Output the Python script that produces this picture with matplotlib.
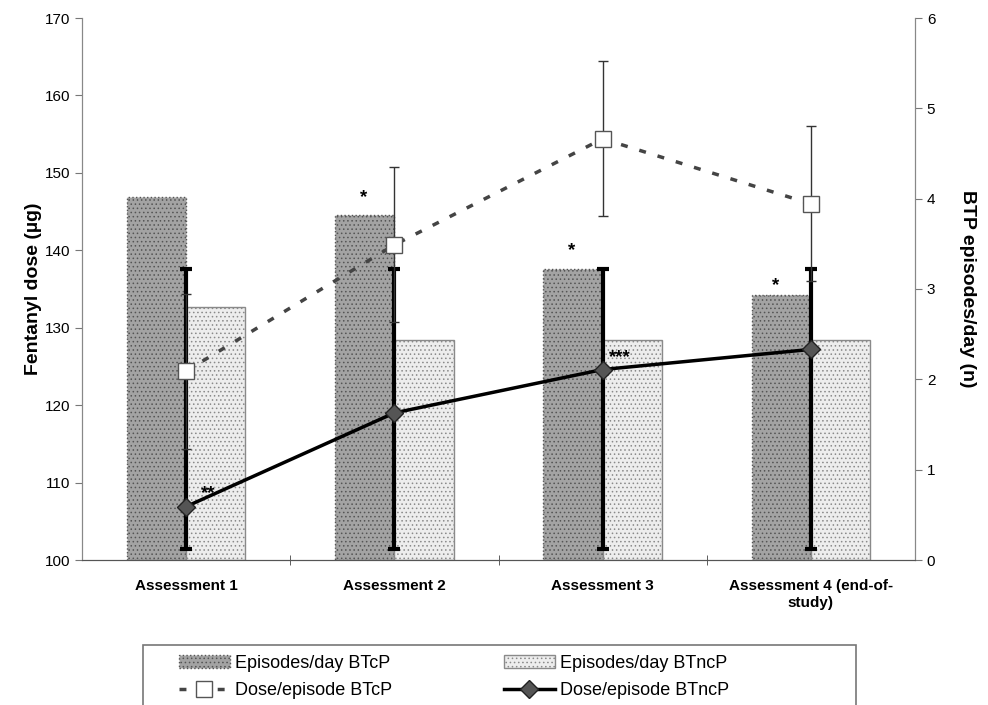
import matplotlib.pyplot as plt
import numpy as np
from matplotlib.patches import Rectangle

plt.rcParams['font.family'] = ['Liberation Sans', 'DejaVu Sans']
plt.rcParams['hatch.linewidth'] = 0.6

categories = ['Assessment 1', 'Assessment 2', 'Assessment 3', 'Assessment 4 (end-of-\nstudy)']
episodes_btcp = [4.02, 3.82, 3.22, 2.93]
episodes_btncp = [2.80, 2.43, 2.43, 2.43]
dose_btcp = [124.4, 140.7, 154.4, 146.0]
dose_btcp_err = [10, 10, 10, 10]
dose_btncp = [106.9, 119.0, 124.6, 127.2]
dose_btncp_low = [101.4, 101.4, 101.4, 101.4]
dose_btncp_high = [137.6, 137.6, 137.6, 137.6]
stars_text = ['**', '*', '*', '***', '*']
stars_x = [0.07, 0.85, 1.85, 2.03, 2.83]
stars_y = [108.6, 146.8, 140.0, 126.2, 135.4]

x = np.arange(len(categories))
w = 0.285

fig = plt.figure(figsize=(9.88, 7.05), dpi=100)
ax = fig.add_axes([82 / 988, 1 - 560 / 705, 833 / 988, 542 / 705])

# bars use the right hand scale
ax.bar(x - w / 2, episodes_btcp, w, color='#a3a3a3', edgecolor='#555555',
       linestyle=':', linewidth=1.0, hatch='....', label='Episodes/day BTcP', zorder=1)
ax.bar(x + w / 2, episodes_btncp, w, color='#ededed', edgecolor='#8a8a8a',
       linewidth=1.0, hatch='....', label='Episodes/day BTncP', zorder=1)
ax.set_ylim(0, 6)
ax.set_xlim(-0.5, 3.5)

ax2 = ax.twinx()
ax.yaxis.tick_right()
ax.yaxis.set_label_position('right')
ax.set_yticks(range(0, 7))
ax.set_ylabel('BTP episodes/day (n)', fontsize=14, fontweight='bold', rotation=270, labelpad=29)

ax2.yaxis.tick_left()
ax2.yaxis.set_label_position('left')
ax2.set_ylim(100, 170)
ax2.set_yticks(range(100, 171, 10))
ax2.set_ylabel('Fentanyl dose (\u00b5g)', fontsize=14, fontweight='bold', labelpad=2)

lo = np.array(dose_btncp) - np.array(dose_btncp_low)
hi = np.array(dose_btncp_high) - np.array(dose_btncp)
ax2.errorbar(x, dose_btncp, yerr=[lo, hi], fmt='none', ecolor='black',
             elinewidth=3, capsize=4, capthick=3, zorder=3)
ax2.errorbar(x, dose_btcp, yerr=dose_btcp_err, fmt='none', ecolor='#333333',
             elinewidth=1, capsize=3.5, capthick=1, zorder=3)
ax2.plot(x, dose_btcp, linestyle=(0, (2, 3.5)), color='#444444', linewidth=2.5,
         marker='s', markersize=11, markerfacecolor='white', markeredgecolor='#555555',
         markeredgewidth=1, label='Dose/episode BTcP', zorder=4)
ax2.plot(x, dose_btncp, linestyle='-', color='black', linewidth=2.5,
         marker='D', markersize=9, markerfacecolor='#555555', markeredgecolor='#222222',
         markeredgewidth=1, label='Dose/episode BTncP', zorder=4)

for t, sx, sy in zip(stars_text, stars_x, stars_y):
    ax2.text(sx, sy, t, fontsize=13.5, fontweight='bold', ha='left' if t != '*' else 'center',
             va='center')

ax.set_xticks(x)
ax.set_xticklabels(categories, fontsize=11, fontweight='bold')
ax.set_xticks(np.arange(-0.5, 4, 1)[1:-1], minor=True)
ax.tick_params(axis='x', which='major', length=0, pad=14)
ax.tick_params(axis='x', which='minor', length=7, direction='inout', color='#444444')
ax.tick_params(axis='y', labelsize=11, length=5, color='#777777')
ax2.tick_params(axis='y', labelsize=11, length=5, color='#777777')

for a in (ax, ax2):
    a.spines['top'].set_visible(False)
    a.spines['left'].set_color('#888888')
    a.spines['right'].set_color('#888888')
    a.spines['bottom'].set_color('#555555')

# legend frame runs past the bottom edge of the figure
fig.patches.append(Rectangle((143 / 988, -0.05), 713 / 988, 0.05 + 1 - 645 / 705,
                             transform=fig.transFigure, fill=False,
                             edgecolor='#777777', linewidth=1.2))

h1, l1 = ax.get_legend_handles_labels()
h2, l2 = ax2.get_legend_handles_labels()
handles = [h1[0], h2[0], h1[1], h2[1]]
labels = [l1[0], l2[0], l1[1], l2[1]]
fig.legend(handles, labels, ncol=2, loc='upper left',
           bbox_to_anchor=(179 / 988, 1 - 655 / 705),
           fontsize=13, frameon=False, handlelength=2.8, handletextpad=0.3,
           borderpad=0, labelspacing=0.55, borderaxespad=0, columnspacing=6.2)

fig.savefig('out.png', dpi=100)
